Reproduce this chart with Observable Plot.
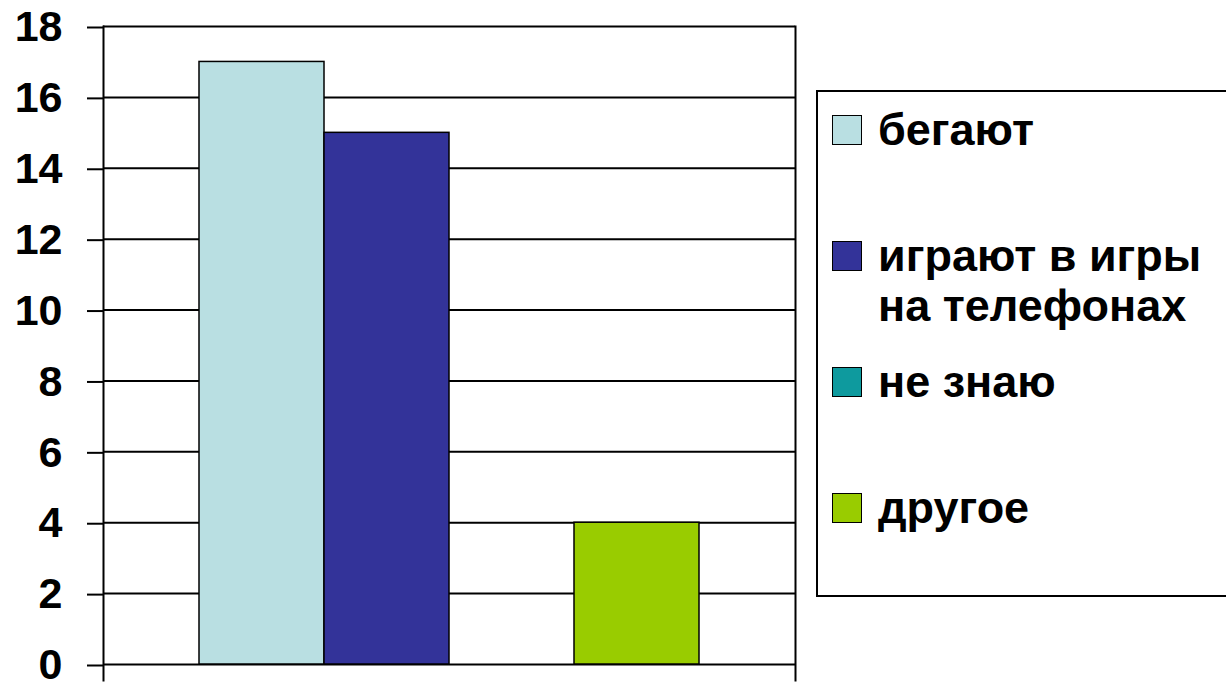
<!DOCTYPE html>
<html>
<head>
<meta charset="utf-8">
<script src="https://cdn.jsdelivr.net/npm/d3@7"></script>
<script src="https://cdn.jsdelivr.net/npm/@observablehq/plot@0.6"></script>
<style>
  html, body { margin: 0; padding: 0; background: #fff; overflow: hidden; }
  #wrap { position: relative; width: 1226px; height: 683px; font-family: "Liberation Sans", Arial, sans-serif; }
  #legend { position: absolute; left: 816px; top: 90px; width: 440px; height: 507px; box-sizing: border-box;
            border: 2px solid #000; background: #fff; }
  .item { position: absolute; left: 0; font-size: 45px; font-weight: bold; line-height: 50px; color: #000; }
  .sw { position: absolute; left: 14px; top: 10px; width: 30px; height: 30px; box-sizing: border-box; border: 1.5px solid #000; }
  .lbl { position: absolute; left: 60px; white-space: nowrap; }
</style>
</head>
<body>
<div id="wrap"></div>
<script>
// Data
const series = ["бегают", "играют в игры\nна телефонах", "не знаю", "другое"];
const values = [17, 15, 0, 4];
const colors = ["#B9DFE2", "#333399", "#0E9A9E", "#99CC00"];
const yTicks = [0, 2, 4, 6, 8, 10, 12, 14, 16, 18];

const data = series.map((s, i) => ({series: s, value: values[i]}));

const chart = Plot.plot({
  width: 1226,
  height: 683,
  marginLeft: 103,
  marginRight: 431,
  marginTop: 26,
  marginBottom: 19,
  style: {fontFamily: "'Liberation Sans', Arial, sans-serif", background: "#fff", overflow: "visible"},
  x: {type: "band", domain: series, paddingInner: 0, paddingOuter: 0.75, axis: null},
  y: {domain: [0, 18], axis: null, label: null},
  color: {domain: series, range: colors},
  marks: [
    Plot.ruleY(yTicks, {stroke: "#000", strokeWidth: 2}),
    Plot.barY(data, {x: "series", y: "value", fill: "series", stroke: "#000", strokeWidth: 1.5}),
    Plot.axisY(yTicks, {label: null, tickSize: 16, tickPadding: 25, fontSize: 43, fontWeight: "bold", fill: "#000",
                        stroke: "#000", strokeWidth: 2, dy: 1, tickFormat: d => String(d)}),
    Plot.frame({anchor: "left", insetBottom: -16, stroke: "#000", strokeWidth: 2}),
    Plot.frame({anchor: "right", insetBottom: -16, stroke: "#000", strokeWidth: 2})
  ]
});

const wrap = document.getElementById("wrap");
wrap.appendChild(chart);

// Legend
const colorScale = chart.scale("color");
const legend = document.createElement("div");
legend.id = "legend";
series.forEach((s, i) => {
  const item = document.createElement("div");
  item.className = "item";
  item.style.top = (13 + i * 126) + "px";
  const sw = document.createElement("div");
  sw.className = "sw";
  sw.style.background = colorScale.apply(s);
  const lbl = document.createElement("div");
  lbl.className = "lbl";
  lbl.innerHTML = s.split("\n").map(t => t.replace(/&/g, "&amp;")).join("<br>");
  item.appendChild(sw);
  item.appendChild(lbl);
  legend.appendChild(item);
});
wrap.appendChild(legend);
</script>
</body>
</html>
